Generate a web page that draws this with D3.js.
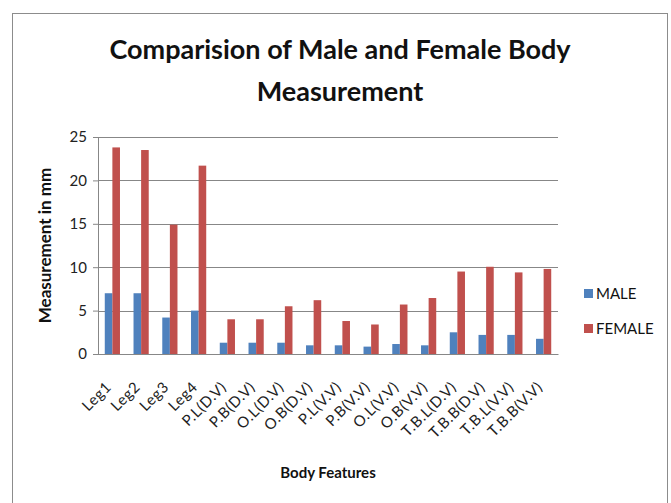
<!DOCTYPE html>
<html>
<head>
<meta charset="utf-8">
<script src="https://cdn.jsdelivr.net/npm/d3@7"></script>
<style>
  body { margin: 0; background: #fff; }
  svg { display: block; }
</style>
</head>
<body>
<svg></svg>
<script>
var categories = ["Leg1", "Leg2", "Leg3", "Leg4", "P.L(D.V)", "P.B(D.V)", "O.L(D.V)", "O.B(D.V)",
  "P.L(V.V)", "P.B(V.V)", "O.L(V.V)", "O.B(V.V)", "T.B.L(D.V)", "T.B.B(D.V)", "T.B.L(V.V)", "T.B.B(V.V)"];
var male = [7.0, 7.0, 4.2, 5.0, 1.3, 1.3, 1.3, 1.0, 1.0, 0.85, 1.15, 1.0, 2.5, 2.2, 2.2, 1.75];
var female = [23.8, 23.5, 14.9, 21.7, 4.0, 4.0, 5.5, 6.2, 3.8, 3.4, 5.7, 6.45, 9.5, 10.05, 9.4, 9.8];
var seriesNames = ["MALE", "FEMALE"];
var yTicks = [0, 5, 10, 15, 20, 25];

var width = 671, height = 503;
var font = "Lato, 'Open Sans', sans-serif";
var colors = {MALE: "#4f81bd", FEMALE: "#c0504d"};

var svg = d3.select("svg").attr("width", width).attr("height", height);

// outer chart border
svg.append("rect")
  .attr("x", 12.5).attr("y", 13.5)
  .attr("width", 655).attr("height", 520)
  .attr("fill", "#fff").attr("stroke", "#8c8c8c");

var plot = {left: 98, right: 558, top: 137, bottom: 354};

var x = d3.scaleBand().domain(categories).range([plot.left, plot.right]).paddingInner(0).paddingOuter(0);
var y = d3.scaleLinear().domain([0, 25]).range([plot.bottom, plot.top]);
var inner = d3.scaleBand().domain(seriesNames).range([0, 15.2]);

// gridlines
svg.append("g").selectAll("line").data(yTicks).enter().append("line")
  .attr("x1", plot.left).attr("x2", plot.right)
  .attr("y1", d => Math.round(y(d)) + 0.5).attr("y2", d => Math.round(y(d)) + 0.5)
  .attr("stroke", "#878787").attr("stroke-width", 1);

// bars
var rows = categories.map((c, i) => ({cat: c, MALE: male[i], FEMALE: female[i]}));
var groups = svg.append("g").selectAll("g").data(rows).enter().append("g")
  .attr("transform", d => "translate(" + (x(d.cat) + x.bandwidth() / 2 - 7.6) + ",0)");
groups.selectAll("rect").data(d => seriesNames.map(k => ({key: k, v: d[k]}))).enter().append("rect")
  .attr("x", d => inner(d.key))
  .attr("width", inner.bandwidth())
  .attr("y", d => y(d.v))
  .attr("height", d => y(0) - y(d.v))
  .attr("fill", d => colors[d.key]);

// y axis
var yAxis = svg.append("g").attr("transform", "translate(" + plot.left + ",0)")
  .call(d3.axisLeft(y).tickValues(yTicks).tickSize(5).tickPadding(6));
yAxis.select(".domain").attr("stroke", "#878787");
yAxis.selectAll(".tick line").attr("stroke", "#878787");
yAxis.selectAll("text").attr("font-family", font).attr("font-size", 15).attr("fill", "#222");

// x axis
var xAxis = svg.append("g").attr("transform", "translate(0," + plot.bottom + ")")
  .call(d3.axisBottom(x).tickSize(0).tickPadding(0));
xAxis.select(".domain").attr("stroke", "#878787");
xAxis.selectAll("text")
  .attr("font-family", font).attr("font-size", 15).attr("fill", "#222")
  .attr("letter-spacing", 0.6)
  .attr("text-anchor", "end")
  .attr("dy", null)
  .attr("transform", "translate(0,34) rotate(-45)");

// titles
var title = svg.append("text").attr("text-anchor", "middle")
  .attr("font-family", font).attr("font-weight", "bold").attr("font-size", 27).attr("fill", "#111");
title.append("tspan").attr("x", 340).attr("y", 59).text("Comparision of Male and Female Body");
title.append("tspan").attr("x", 340).attr("y", 101).text("Measurement");

svg.append("text")
  .attr("transform", "translate(51," + (plot.top + plot.bottom) / 2 + ") rotate(-90)")
  .attr("text-anchor", "middle")
  .attr("font-family", font).attr("font-weight", "bold").attr("font-size", 17).attr("fill", "#111")
  .text("Measurement in mm");

svg.append("text")
  .attr("x", (plot.left + plot.right) / 2).attr("y", 478)
  .attr("text-anchor", "middle")
  .attr("font-family", font).attr("font-weight", "bold").attr("font-size", 15).attr("fill", "#111")
  .text("Body Features");

// legend
var legend = svg.append("g").selectAll("g").data(seriesNames).enter().append("g")
  .attr("transform", (d, i) => "translate(584," + (294 + i * 35) + ")");
legend.append("rect").attr("x", 0).attr("y", -5).attr("width", 9).attr("height", 9)
  .attr("fill", d => colors[d]);
legend.append("text").attr("x", 12).attr("y", 5)
  .attr("font-family", font).attr("font-size", 15).attr("fill", "#111")
  .text(d => d);
</script>
</body>
</html>
